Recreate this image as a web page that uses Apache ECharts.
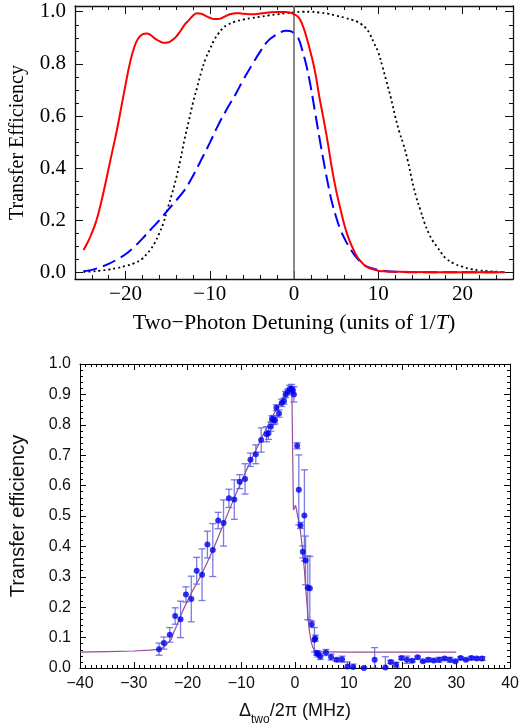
<!DOCTYPE html>
<html>
<head>
<meta charset="utf-8">
<script src="https://cdn.jsdelivr.net/npm/echarts@6/dist/echarts.min.js"></script>
<style>
html,body{margin:0;padding:0;background:#fff;}
#chart{width:522px;height:727px;}
</style>
</head>
<body>
<div id="chart"></div>
<script>
// ---------- Top panel (theory curves) ----------
const redX = [-25,-24.5,-24,-23.5,-23,-22.5,-22,-21.5,-21,-20.5,-20,-19.5,-19,-18.5,-18,-17.5,-17,-16.5,-16,-15.5,-15,-14.5,-14,-13.5,-13,-12.5,-12,-11.5,-11,-10.5,-10,-9.5,-9,-8.5,-8,-7.5,-7,-6.5,-6,-5,-4,-3,-2,-1,-0.5,0,0.5,1,1.5,2,2.5,3,3.5,4,4.5,5,5.5,6,6.5,7,7.5,8,8.5,9,10,11,12,14,20,25];
const redY = [0.086,0.115,0.152,0.195,0.255,0.325,0.40,0.475,0.55,0.635,0.72,0.80,0.86,0.897,0.913,0.917,0.91,0.897,0.887,0.881,0.882,0.89,0.904,0.925,0.95,0.967,0.985,0.994,0.992,0.984,0.977,0.972,0.972,0.977,0.985,0.991,0.994,0.994,0.992,0.99,0.993,0.997,0.999,0.999,0.997,0.99,0.98,0.95,0.90,0.84,0.77,0.675,0.59,0.50,0.40,0.315,0.245,0.18,0.13,0.092,0.06,0.04,0.025,0.016,0.007,0.004,0.003,0.002,0.001,0.001];

const blueX = [-25,-24,-23,-22,-21,-20,-19,-18,-17,-16,-15,-14,-13,-12,-11,-10,-9,-8,-7,-6,-5,-4,-3,-2,-1.5,-1,-0.5,0,0.5,1,1.5,2,2.5,3,3.5,4,4.5,5,5.5,6,6.5,7,7.5,8,8.5,9,10,11,12,15,25];
const blueY = [0.005,0.01,0.02,0.033,0.05,0.07,0.097,0.13,0.165,0.2,0.238,0.276,0.316,0.37,0.433,0.497,0.565,0.625,0.68,0.74,0.795,0.848,0.891,0.914,0.923,0.927,0.926,0.918,0.90,0.85,0.79,0.71,0.615,0.52,0.43,0.345,0.27,0.213,0.165,0.13,0.10,0.075,0.054,0.038,0.025,0.018,0.01,0.005,0.003,0.001,0.001];

const blackX = [-25,-24,-23,-22,-21,-20,-19,-18,-17.5,-17,-16.5,-16,-15.5,-15,-14.5,-14,-13.5,-13,-12.5,-12,-11.5,-11,-10.5,-10,-9.5,-9,-8.5,-8,-7,-6,-5,-4,-3,-2,-1,0,1,2,3,4,5,6,7,7.5,8,8.5,9,9.5,10,10.5,11,11.5,12,12.5,13,13.5,14,14.5,15,15.5,16,16.5,17,17.5,18,19,20,21,22,23,24,25];
const blackY = [0.002,0.004,0.007,0.011,0.017,0.025,0.035,0.053,0.07,0.09,0.115,0.15,0.19,0.245,0.3,0.36,0.43,0.51,0.58,0.65,0.71,0.77,0.82,0.855,0.89,0.915,0.935,0.948,0.962,0.97,0.976,0.981,0.986,0.99,0.994,0.998,1.0,1.0,0.997,0.993,0.985,0.977,0.968,0.962,0.952,0.938,0.915,0.88,0.845,0.79,0.73,0.67,0.60,0.54,0.49,0.43,0.355,0.29,0.24,0.19,0.15,0.12,0.098,0.075,0.055,0.034,0.022,0.013,0.008,0.005,0.003,0.002];

const topXMajor = [-20,-10,0,10,20];
const topXMinor = [-24,-22,-18,-16,-14,-12,-8,-6,-4,-2,2,4,6,8,12,14,16,18,22,24];
const topYMajor = [0,0.2,0.4,0.6,0.8,1.0];
const topYMinor = [0.05,0.1,0.15,0.25,0.3,0.35,0.45,0.5,0.55,0.65,0.7,0.75,0.85,0.9,0.95];

// ---------- Bottom panel (experiment) ----------
const expX = [-25.3,-24.4,-23.3,-22.3,-21.3,-20.3,-19.3,-18.3,-17.3,-16.3,-15.3,-14.3,-13.3,-12.3,-11.3,-10.3,-9.3,-8.3,-7.3,-6.3,-5.3,-4.95,-4.5,-4.3,-3.97,-3.72,-3.47,-2.98,-2.49,-2.06,-1.76,-1.39,-1.02,-0.65,-0.4,-0.22,0.39,0.7,1.0,1.44,1.74,1.95,2.36,2.75,3.1,3.6,3.77,4.0,4.3,4.7,5.75,6.7,7.75,8.75,9.75,10.8,12.8,14.8,16.8,17.8,18.8,19.8,20.8,21.8,22.8,23.8,24.8,25.8,26.8,27.8,28.8,29.8,30.8,31.8,32.8,33.8,34.8];
const expY = [0.062,0.082,0.109,0.171,0.160,0.242,0.227,0.320,0.307,0.406,0.388,0.485,0.477,0.558,0.554,0.613,0.622,0.685,0.703,0.750,0.769,0.772,0.794,0.820,0.816,0.815,0.856,0.837,0.872,0.878,0.900,0.908,0.918,0.918,0.914,0.900,0.731,0.586,0.469,0.382,0.502,0.354,0.264,0.262,0.144,0.093,0.098,0.049,0.046,0.038,0.051,0.036,0.027,0.029,0.005,0.003,0.000,0.027,0.002,0.020,0.011,0.033,0.027,0.024,0.035,0.022,0.027,0.025,0.027,0.031,0.027,0.022,0.033,0.027,0.033,0.031,0.031];
const expErr = [0.02,0.02,0.024,0.027,0.06,0.025,0.075,0.044,0.085,0.044,0.087,0.027,0.076,0.03,0.065,0.023,0.05,0.022,0.031,0.04,0.025,0.02,0.015,0.01,0.015,0.012,0.01,0.012,0.012,0.01,0.01,0.01,0.012,0.015,0.012,0.025,0.01,0.115,0.01,0.02,0.15,0.08,0.105,0.105,0.01,0.04,0.01,0.008,0.01,0.01,0.01,0.01,0.005,0.01,0.015,0.01,0.003,0.04,0.035,0.005,0.008,0.005,0.012,0.004,0.004,0.003,0.006,0.004,0.008,0.004,0.008,0.003,0.004,0.003,0.005,0.004,0.006];

const fitX = [-40,-35,-30,-27,-25,-24,-23,-22.5,-22,-21,-20,-19,-18,-17,-16,-15,-14,-13,-12,-11,-10,-9,-8,-7,-6,-5,-4,-3,-2,-1.5,-1,-0.6,-0.35,-0.3,-0.1,0.1,0.3,0.6,1.0,1.4,1.75,2.05,2.35,2.65,3.0,3.3,3.6,4.0,4.5,5,6,10,20,30];
const fitY = [0.052,0.054,0.056,0.059,0.062,0.075,0.095,0.12,0.14,0.183,0.222,0.256,0.288,0.322,0.36,0.40,0.443,0.487,0.53,0.572,0.612,0.652,0.69,0.728,0.765,0.80,0.834,0.865,0.895,0.905,0.914,0.918,0.915,0.52,0.525,0.535,0.53,0.49,0.45,0.39,0.32,0.25,0.18,0.125,0.085,0.068,0.06,0.056,0.054,0.053,0.053,0.052,0.052,0.052];

const botXTicks = [-40,-30,-20,-10,0,10,20,30,40];
const botYTicks = [0,0.1,0.2,0.3,0.4,0.5,0.6,0.7,0.8,0.9,1.0];

const pairs = (xs, ys) => xs.map((x, i) => [x, ys[i]]);
const minus = v => (v < 0 ? '\u2212' + Math.abs(v) : String(v));

const serif = 'Liberation Serif, Times New Roman, serif';
const sans = 'Liberation Sans, Arial, Helvetica, sans-serif';
const frameColor = '#111';

function topAxis(position, ticks, len, showLine, label, extra) {
  return Object.assign({
    type: 'value', gridIndex: 0, position: position,
    axisLine: { show: showLine, onZero: false, lineStyle: { color: frameColor, width: 1.3 } },
    axisTick: { show: true, inside: true, length: len, customValues: ticks, lineStyle: { color: frameColor, width: 1 } },
    axisLabel: label ? label : { show: false },
    splitLine: { show: false }
  }, extra);
}

const chart = echarts.init(document.getElementById('chart'), null, { renderer: 'canvas' });

const option = {
  backgroundColor: '#fff',
  animation: false,
  grid: [
    { left: 74, right: 9, top: 6, height: 273, containLabel: false },
    { left: 78, right: 9, top: 364, height: 306, containLabel: false }
  ],
  xAxis: [
    topAxis('bottom', topXMajor, 8, true, {
      show: true, customValues: topXMajor, margin: 5,
      formatter: v => minus(v), color: '#000', fontFamily: serif, fontSize: 21
    }, {
      min: -26, max: 26,
      name: 'Two\u2212Photon Detuning (units of 1/{i|T})',
      nameLocation: 'middle', nameGap: 33,
      nameTextStyle: { color: '#000', fontFamily: serif, fontSize: 22,
        rich: { i: { fontFamily: serif, fontSize: 22, fontStyle: 'italic', color: '#000' } } }
    }),
    topAxis('bottom', topXMinor, 4, false, null, { min: -26, max: 26 }),
    topAxis('top', topXMajor, 8, true, null, { min: -26, max: 26 }),
    topAxis('top', topXMinor, 4, false, null, { min: -26, max: 26 }),
    {
      type: 'value', gridIndex: 1, position: 'bottom', min: -40, max: 40, interval: 10,
      axisLine: { show: true, onZero: false, lineStyle: { color: '#000', width: 1 } },
      axisTick: { show: true, inside: true, length: 6, lineStyle: { color: '#000' } },
      minorTick: { show: true, splitNumber: 10, length: 3, lineStyle: { color: '#000' } },
      axisLabel: { show: true, customValues: botXTicks, margin: 8, formatter: v => minus(v),
        color: '#111', fontFamily: sans, fontSize: 16 },
      splitLine: { show: false },
      name: '{d|\u0394}{s|two}{d|/2\u03c0 (MHz)}',
      nameLocation: 'middle', nameGap: 28,
      nameTextStyle: { color: '#111', fontFamily: sans, fontSize: 18,
        rich: {
          d: { fontFamily: sans, fontSize: 18, color: '#111', verticalAlign: 'middle' },
          s: { fontFamily: sans, fontSize: 12, color: '#111', verticalAlign: 'bottom', lineHeight: 30 }
        } }
    },
    {
      type: 'value', gridIndex: 1, position: 'top', min: -40, max: 40, interval: 10,
      axisLine: { show: true, onZero: false, lineStyle: { color: '#000', width: 1 } },
      axisTick: { show: true, inside: true, length: 6, lineStyle: { color: '#000' } },
      minorTick: { show: true, splitNumber: 10, length: 3, lineStyle: { color: '#000' } },
      axisLabel: { show: false }, splitLine: { show: false }
    }
  ],
  yAxis: [
    topAxis('left', topYMajor, 8, true, {
      show: true, customValues: topYMajor, margin: 9,
      formatter: v => v.toFixed(1), color: '#000', fontFamily: serif, fontSize: 21
    }, {
      min: -0.025, max: 1.022,
      name: 'Transfer Efficiency', nameLocation: 'middle', nameGap: 47,
      nameTextStyle: { color: '#000', fontFamily: serif, fontSize: 20 }
    }),
    topAxis('left', topYMinor, 4, false, null, { min: -0.025, max: 1.022 }),
    topAxis('right', topYMajor, 8, true, null, { min: -0.025, max: 1.022 }),
    topAxis('right', topYMinor, 4, false, null, { min: -0.025, max: 1.022 }),
    {
      type: 'value', gridIndex: 1, position: 'left', min: 0, max: 1, interval: 0.1,
      axisLine: { show: true, onZero: false, lineStyle: { color: '#000', width: 1 } },
      axisTick: { show: true, inside: true, length: 6, lineStyle: { color: '#000' } },
      minorTick: { show: true, splitNumber: 5, length: 3, lineStyle: { color: '#000' } },
      axisLabel: { show: true, customValues: botYTicks, margin: 9, formatter: v => v.toFixed(1),
        color: '#111', fontFamily: sans, fontSize: 16 },
      splitLine: { show: false },
      name: 'Transfer efficiency', nameLocation: 'middle', nameGap: 52,
      nameTextStyle: { color: '#111', fontFamily: sans, fontSize: 20 }
    },
    {
      type: 'value', gridIndex: 1, position: 'right', min: 0, max: 1, interval: 0.1,
      axisLine: { show: true, onZero: false, lineStyle: { color: '#000', width: 1 } },
      axisTick: { show: true, inside: true, length: 6, lineStyle: { color: '#000' } },
      minorTick: { show: true, splitNumber: 5, length: 3, lineStyle: { color: '#000' } },
      axisLabel: { show: false }, splitLine: { show: false }
    }
  ],
  series: [
    {
      type: 'line', xAxisIndex: 0, yAxisIndex: 0, data: pairs(blackX, blackY),
      showSymbol: false, smooth: 0.4, z: 3,
      lineStyle: { color: '#000', width: 1.8, type: [2, 3] },
      markLine: {
        silent: true, symbol: 'none', label: { show: false },
        lineStyle: { color: '#6e6e6e', width: 1.6, type: 'solid' },
        data: [{ xAxis: 0 }]
      }
    },
    {
      type: 'line', xAxisIndex: 0, yAxisIndex: 0, data: pairs(blueX, blueY),
      showSymbol: false, smooth: 0.4, z: 4,
      lineStyle: { color: '#0000ff', width: 2, type: [14, 6] }
    },
    {
      type: 'line', xAxisIndex: 0, yAxisIndex: 0, data: pairs(redX, redY),
      showSymbol: false, smooth: 0.5, z: 5,
      lineStyle: { color: '#ff0000', width: 2 }
    },
    {
      type: 'line', xAxisIndex: 4, yAxisIndex: 4, data: pairs(fitX, fitY),
      showSymbol: false, smooth: false, z: 3,
      lineStyle: { color: '#9a4c9a', width: 1.2 }
    },
    {
      type: 'custom', xAxisIndex: 4, yAxisIndex: 4, z: 4, clip: true,
      data: expX.map((x, i) => [x, expY[i], expErr[i]]),
      renderItem: function (params, api) {
        const x = api.value(0), y = api.value(1), e = api.value(2);
        const hi = api.coord([x, y + e]);
        const lo = api.coord([x, Math.max(0, y - e)]);
        const cap = 3.5;
        const st = { stroke: 'rgba(90,90,220,0.8)', lineWidth: 1.3 };
        return {
          type: 'group',
          children: [
            { type: 'line', shape: { x1: hi[0], y1: hi[1], x2: lo[0], y2: lo[1] }, style: st },
            { type: 'line', shape: { x1: hi[0] - cap, y1: hi[1], x2: hi[0] + cap, y2: hi[1] }, style: st },
            { type: 'line', shape: { x1: lo[0] - cap, y1: lo[1], x2: lo[0] + cap, y2: lo[1] }, style: st }
          ]
        };
      }
    },
    {
      type: 'scatter', xAxisIndex: 4, yAxisIndex: 4, z: 5,
      data: pairs(expX, expY), symbol: 'circle', symbolSize: 6,
      itemStyle: { color: '#0000f0' }
    }
  ]
};
chart.setOption(option);
</script>
</body>
</html>
